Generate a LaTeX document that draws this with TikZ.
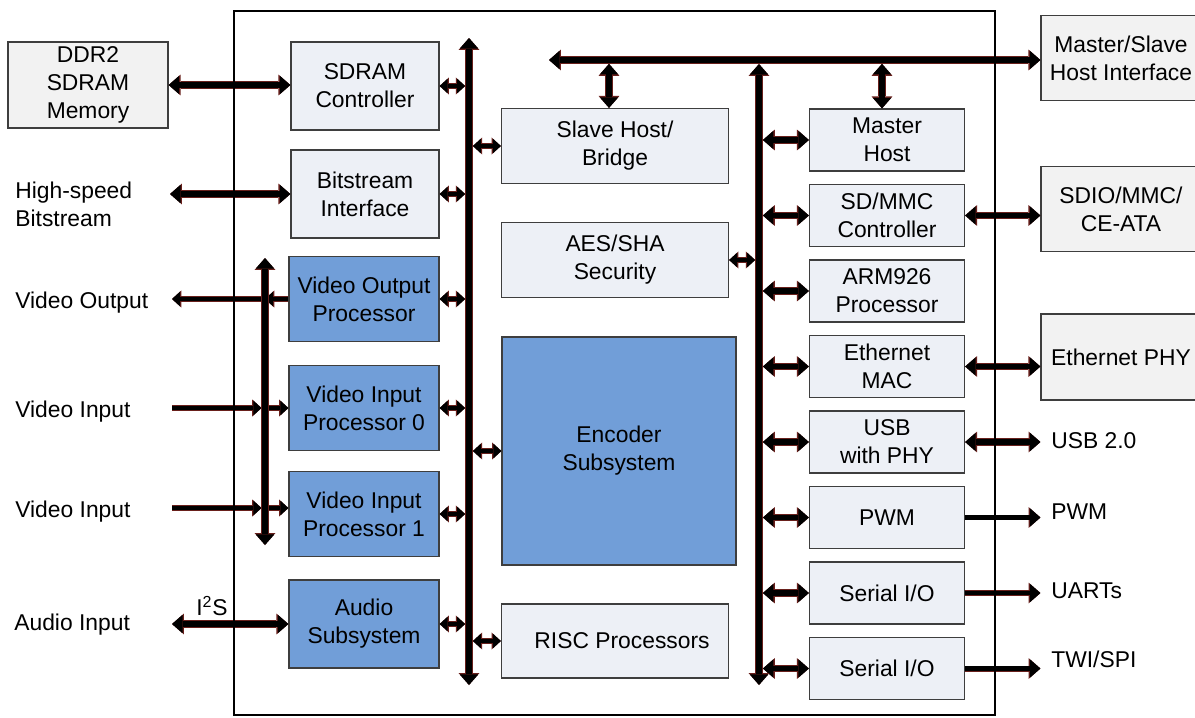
\documentclass[tikz,border=0pt]{standalone}
\usepackage{fontspec}
\setmainfont{Liberation Sans}
\usetikzlibrary{arrows.meta}
\definecolor{cPale}{RGB}{237,240,246}
\definecolor{cGrey}{RGB}{242,242,242}
\definecolor{cBlue}{RGB}{113,158,216}
\definecolor{cRim}{RGB}{105,32,28}
\definecolor{cEdge}{RGB}{62,62,62}
\tikzset{
  hd/.tip={Triangle[length=6pt,width=10.5pt,line width=0pt]},
  hdr/.tip={Triangle[length=6.8pt,width=11.9pt,line width=0pt]},
  hs/.tip={Triangle[length=4.6pt,width=8.4pt,line width=0pt]},
  hsr/.tip={Triangle[length=5.3pt,width=9.7pt,line width=0pt]},
}

\begin{document}
\begin{tikzpicture}[
  x=0.02cm, y=-0.02cm,
  every node/.style={font=\fontsize{13}{16}\selectfont, align=center,
                     inner sep=0pt},
  wh/.style 2 args={minimum width=#1*0.02cm, minimum height=#2*0.02cm},
  plain/.style={draw=cEdge, line width=0.7pt, fill=cPale},
  outer/.style={draw=cEdge, line width=0.7pt, fill=cGrey},
  video/.style={draw=cEdge, line width=0.7pt, fill=cBlue},
  lbl/.style={anchor=west, align=left},
  link/.style={draw=black, line width=3.2pt, hd-hd,
               preaction={draw=cRim, line width=4.1pt, hdr-hdr}},
  linkto/.style={draw=black, line width=2.6pt, -hd,
                 preaction={draw=cRim, line width=3.4pt, -hdr}},
  tap/.style={draw=black, line width=2.2pt, hs-hs,
              preaction={draw=cRim, line width=3pt, hsr-hsr}},
  tapto/.style={draw=black, line width=2.2pt, -hs,
                preaction={draw=cRim, line width=3pt, -hsr}},
  rail/.style={draw=black, line width=3.6pt, hd-hd,
               preaction={draw=cRim, line width=4.5pt, hdr-hdr}},
]
\useasboundingbox (0,0) rectangle (1195,717);

% ---- off-chip parts -------------------------------------------------------
\node[outer, wh={160}{86}] (ddr) at (88,85) {DDR2\\SDRAM\\Memory};
\node[outer, wh={160}{85}] (msh) at (1121,58) {Master/Slave\\Host Interface};
\node[outer, wh={160}{85}] (sdio) at (1121,209) {SDIO/MMC/\\CE-ATA};
\node[outer, wh={160}{86}] (ephy) at (1121,357) {Ethernet PHY};

\node[lbl] (lhs) at (15,204) {High-speed\\Bitstream};
\node[lbl] (lvo) at (15,303) {Video Output};
\node[lbl] (lvi0) at (15,412) {Video Input};
\node[lbl] (lvi1) at (15,512) {Video Input};
\node[lbl] (lai) at (14,625) {Audio Input};
\node (li2s) at (212,606) {I\textsuperscript{2}S};
\node[lbl] (lusb) at (1051,441) {USB 2.0};
\node[lbl] (lpwm) at (1051,512) {PWM};
\node[lbl] (luart) at (1051,591) {UARTs};
\node[lbl] (ltwi) at (1051,659) {TWI/SPI};

% ---- left column ----------------------------------------------------------
\node[plain, wh={148}{88}] (sdram) at (365,86) {SDRAM\\Controller};
\node[plain, wh={148}{88}] (bits) at (365,194) {Bitstream\\Interface};
\node[video, wh={150}{85}] (vop) at (364,299) {Video Output\\Processor};
\node[video, wh={150}{85}] (vip0) at (364,408) {Video Input\\Processor 0};
\node[video, wh={150}{85}] (vip1) at (364,514) {Video Input\\Processor 1};
\node[video, wh={150}{88}] (audio) at (364,624) {Audio\\Subsystem};

% ---- middle column --------------------------------------------------------
\node[plain, wh={227}{75}] (slave) at (615,146) {Slave Host/\\Bridge};
\node[plain, wh={227}{75}] (aes) at (615,260) {AES/SHA\\Security};
\node[video, wh={234}{228}] (enc) at (619,451) {Encoder\\Subsystem};
\node[plain, wh={227}{74}] (risc) at (615,641) {\hspace{8pt}RISC Processors};

% ---- right column ---------------------------------------------------------
\foreach \n/\t [count=\i from 0] in {master/{Master\\Host},
    sdmmc/{SD/MMC\\Controller}, arm/{ARM926\\Processor},
    eth/{Ethernet\\MAC}, usb/{USB\\with PHY}, pwm/PWM,
    sio1/{Serial I/O}, sio2/{Serial I/O}}
  \node[plain, wh={155}{62}] (\n) at (887,140+75.5*\i) {\t};

% ---- bus end points -------------------------------------------------------
\coordinate (lbT) at (469,38);  \coordinate (lbB) at (469,685);
\coordinate (vbT) at (265,258); \coordinate (vbB) at (265,545);
\coordinate (tbL) at (549,60);
\coordinate (rbT) at (759,64);  \coordinate (rbB) at (759,685);
\coordinate (pHS) at (170,194);
\coordinate (pVO) at (172,299);
\coordinate (pVI0) at (172,408);
\coordinate (pVI1) at (172,508);
\coordinate (pAI) at (172,624);

% ---- off-chip links -------------------------------------------------------
\draw[link] (ddr.east) -- (ddr.east -| sdram.west);
\draw[link] (pHS) -- (bits.west);
\draw[tapto] (vop.west) -- (vop.west -| vbT);
\draw[tapto] (vop.west -| vbT) -- (pVO);
\draw[tapto, shorten >=2pt] (pVI0) -- (pVI0 -| vbT);
\draw[tapto] (pVI0 -| vbT) -- (vip0.west);
\draw[tapto, shorten >=2pt] (pVI1) -- (pVI1 -| vbT);
\draw[tapto] (pVI1 -| vbT) -- (pVI1 -| vip1.west);
\draw[link] (pAI) -- (audio.west);

\draw[link] (sdmmc.east) -- (sdmmc.east -| sdio.west);
\draw[link] (eth.east) -- (eth.east -| ephy.west);
\draw[link, shorten >=6pt] (usb.east) -- (usb.east -| lusb.west);
\draw[linkto, shorten >=6pt] (pwm.east) -- (pwm.east -| lpwm.west);
\draw[linkto, shorten >=6pt] (sio1.east) -- (sio1.east -| luart.west);
\draw[linkto, shorten >=6pt] (sio2.east) -- (sio2.east -| ltwi.west);

% ---- taps onto the buses --------------------------------------------------
\foreach \b in {sdram,bits,vop,vip0,vip1,audio}
  \draw[tap, shorten >=2.2pt] (\b.east) -- (\b.east -| lbT);
\foreach \b in {slave,enc,risc}
  \draw[tap, shorten <=2.2pt] (\b.west -| lbT) -- (\b.west);
\draw[tap, shorten >=2.2pt] (aes.east) -- (aes.east -| rbT);
\foreach \b in {master,sdmmc,arm,eth,usb,pwm,sio1,sio2}
  \draw[link, shorten <=2.2pt] (\b.west -| rbT) -- (\b.west);
\draw[link, shorten >=2.2pt] ([xshift=-0.12cm]slave.north) -- ([xshift=-0.12cm]slave.north |- tbL);
\draw[link, shorten >=2.2pt] ([xshift=-0.1cm]master.north) -- ([xshift=-0.1cm]master.north |- tbL);

% ---- buses ----------------------------------------------------------------
\draw[rail] (lbB) -- (lbT);
\draw[rail, line width=3pt] (vbB) -- (vbT);
\draw[rail] (tbL) -- (tbL -| msh.west);
\draw[rail] (rbB) -- (rbT);

% ---- chip outline ---------------------------------------------------------
\node[draw=black, line width=1.3pt, wh={761}{704}] (chip) at (614.5,363) {};

\end{tikzpicture}
\end{document}
